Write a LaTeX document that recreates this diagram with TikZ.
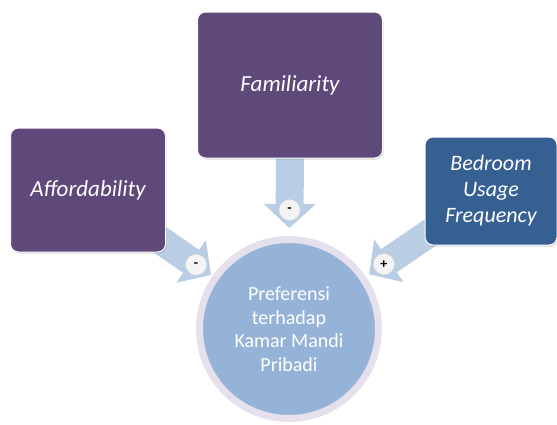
\documentclass[tikz,border=0pt]{standalone}
\usepackage{fontspec}
\setmainfont{Carlito}
\usetikzlibrary{calc,shadows}
\definecolor{kmpurple}{HTML}{5F497A}
\definecolor{kmblue}{HTML}{376092}
\definecolor{kmarrow}{HTML}{B9CDE5}
\definecolor{kmcircle}{HTML}{95B3D7}
\definecolor{kmring}{HTML}{E6E0EC}
\definecolor{kmsign}{HTML}{F4F4F4}
\tikzset{
  factor/.style={rectangle,rounded corners=8pt,draw=white,line width=1pt,
    text=white,align=center,font=\fontsize{23}{26}\selectfont\itshape,
    drop shadow={opacity=0.3,shadow xshift=1pt,shadow yshift=-1.5pt}},
  signdot/.style={circle,fill=kmsign,draw=black!15,line width=0.4pt,
    minimum size=21pt,inner sep=0pt,font=\fontsize{14}{14}\selectfont\bfseries},
  arrowfill/.style={fill=kmarrow}
}
% block arrow: start, tip, name, sign
\newcommand{\blockarrow}[4]{%
  \coordinate (#3h) at ($(#2)!24pt!(#1)$);
  \fill[arrowfill] ($(#1)!14pt!90:(#2)$) -- ($(#3h)!14pt!90:(#2)$)
    -- ($(#3h)!26pt!90:(#2)$) -- (#2) -- ($(#3h)!26pt!-90:(#2)$)
    -- ($(#3h)!14pt!-90:(#2)$) -- ($(#1)!14pt!-90:(#2)$) -- cycle;
  \node[signdot] (#3s) at ($(#3h)!0.25!(#2)$) {#4};
}

\begin{document}
\begin{tikzpicture}[x=1pt,y=-1pt]
  \useasboundingbox (0,0) rectangle (557,424);
  % centre
  \node[circle,fill=kmcircle,draw=kmring,line width=7pt,minimum size=179pt,
    text=white,align=center,font=\fontsize{20}{23.5}\selectfont]
    (pref) at (289,329) {Preferensi\\terhadap\\Kamar Mandi\\Pribadi};
  % factors
  \coordinate (famc) at (290,85);
  \coordinate (affc) at (88,190);
  \coordinate (bedc) at (491,191);
  \coordinate (afft) at ($(affc)!0.35!(pref.center)$);
  \coordinate (bedt) at ($(bedc)!0.29!(pref.center)$);
  \coordinate (famt) at (290,158);
  \coordinate (affp) at ($(pref.center)!95pt!(affc)$);
  \coordinate (bedp) at ($(pref.center)!97pt!(bedc)$);
  \coordinate (famp) at ($(pref.center)!101pt!(famc)$);
  \blockarrow{afft}{affp}{aa}{-}
  \blockarrow{bedt}{bedp}{ba}{+}
  \blockarrow{famt}{famp}{fa}{-}
  \node[factor,fill=kmpurple,minimum width=185pt,minimum height=146pt]
    (fam) at (famc) {Familiarity};
  \node[factor,fill=kmpurple,minimum width=155pt,minimum height=124pt]
    (aff) at (affc) {Affordability};
  \node[factor,fill=kmblue,minimum width=132pt,minimum height=108pt,
    font=\fontsize{22}{26}\selectfont\itshape]
    (bed) at (bedc) {Bedroom\\Usage\\Frequency};
\end{tikzpicture}
\end{document}
